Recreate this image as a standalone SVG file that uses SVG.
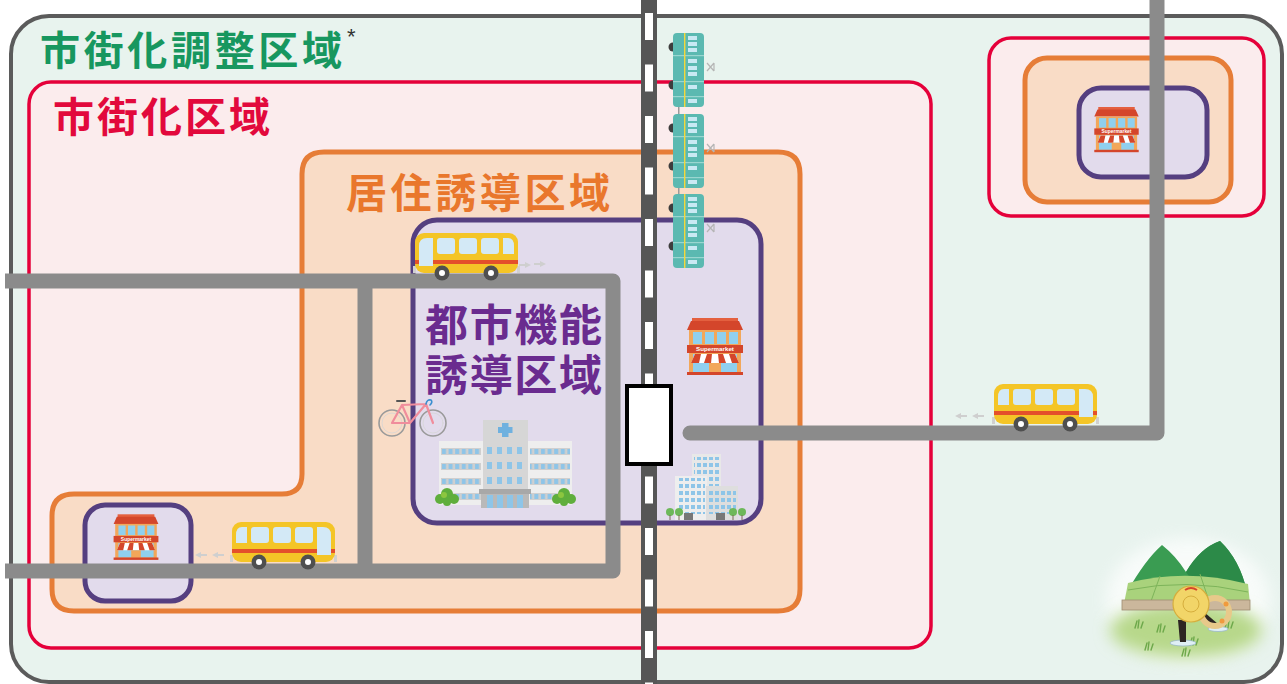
<svg xmlns="http://www.w3.org/2000/svg" xmlns:xlink="http://www.w3.org/1999/xlink" width="1287" height="684" viewBox="0 0 1287 684">
  <style>
    .jp { font-family: "Noto Sans CJK JP", "Noto Sans", sans-serif; font-weight: 700; }
    .road { fill: none; stroke: #8b8b8b; stroke-width: 15; stroke-linejoin: round; }
    .zone-red { fill: #fbeced; stroke: #e5003a; stroke-width: 3.5; }
    .zone-orange { fill: #f9dcc6; stroke: #e67d37; stroke-width: 5; }
    .zone-purple { fill: #e2dbec; stroke: #553f80; stroke-width: 5; }
    .win { fill: #8ec5e8; }
    .puff { fill: #cfcfcf; }
  </style>
  <defs>
    <!-- supermarket storefront -->
    <symbol id="shop" viewBox="0 0 60 58">
      <rect x="7" y="0" width="46" height="4" fill="#e4603f"/>
      <polygon points="2,12 6,3 54,3 58,12" fill="#d4462b"/>
      <rect x="4" y="12" width="52" height="43" fill="#f2a75a"/>
      <rect x="8" y="14" width="9" height="12" fill="#8fd0ef"/>
      <rect x="20" y="14" width="9" height="12" fill="#8fd0ef"/>
      <rect x="32" y="14" width="9" height="12" fill="#8fd0ef"/>
      <rect x="44" y="14" width="9" height="12" fill="#8fd0ef"/>
      <rect x="2" y="27" width="56" height="8" fill="#d4462b"/>
      <text x="30" y="33.2" text-anchor="middle" font-family="Liberation Sans, sans-serif" font-size="6.2" font-weight="700" fill="#ffffff">Supermarket</text>
      <rect x="8" y="36" width="44" height="18" fill="#8fd0ef"/>
      <polygon points="10,36 50,36 54,45 6,45" fill="#ffffff"/>
      <polygon points="10,36 16,36 14,45 6,45" fill="#d4462b"/>
      <polygon points="22,36 27,36 26,45 19,45" fill="#d4462b"/>
      <polygon points="33,36 38,36 41,45 34,45" fill="#d4462b"/>
      <polygon points="44,36 50,36 54,45 47,45" fill="#d4462b"/>
      <rect x="24" y="45" width="12" height="10" fill="#f2a75a"/>
      <rect x="2" y="54" width="56" height="3" fill="#d4462b"/>
    </symbol>

    <!-- city bus, front on the left -->
    <g id="bus">
      <rect x="-2" y="33" width="3" height="7" fill="#d0d0d0"/>
      <rect x="102" y="33" width="3" height="7" fill="#d0d0d0"/>
      <rect x="0" y="0" width="103" height="40" rx="9" fill="#f4c527"/>
      <rect x="0" y="27" width="103" height="4" fill="#e4502b"/>
      <path d="M4,13 Q4,5 12,5 H18 V33 H4 Z" fill="#d3e9f6"/>
      <rect x="22" y="5" width="18" height="16" rx="3" fill="#d3e9f6"/>
      <rect x="44" y="5" width="18" height="16" rx="3" fill="#d3e9f6"/>
      <rect x="66" y="5" width="18" height="16" rx="3" fill="#d3e9f6"/>
      <path d="M88,5 H93 Q99,5 99,13 V21 H88 Z" fill="#d3e9f6"/>
      <circle cx="27" cy="40" r="7.5" fill="#4f4f4f"/>
      <circle cx="27" cy="40" r="3" fill="#ffffff"/>
      <circle cx="76" cy="40" r="7.5" fill="#4f4f4f"/>
      <circle cx="76" cy="40" r="3" fill="#ffffff"/>
    </g>

    <!-- exhaust puff -->
    <g id="puffL">
      <path class="puff" d="M0,0 L6,-3 V3 Z"/>
      <rect class="puff" x="5" y="-1" width="7" height="2"/>
    </g>

    <!-- railway carriage seen from above -->
    <g id="car">
      <circle cx="0" cy="14" r="4.5" fill="#3d3d3d"/>
      <circle cx="0" cy="52" r="4.5" fill="#3d3d3d"/>
      <path d="M34,30 L41,38 M34,38 L41,30 M41,30 V38" stroke="#b5b5b5" stroke-width="1.2" fill="none"/>
      <rect x="0" y="0" width="31" height="74" rx="4" fill="#5bb9b1"/>
      <rect x="0" y="22" width="31" height="1.2" fill="#9ad6d0"/>
      <rect x="0" y="48" width="31" height="1.2" fill="#9ad6d0"/>
      <rect x="0" y="63" width="31" height="1.2" fill="#9ad6d0"/>
      <rect x="15" y="3" width="9" height="4" fill="#c9e9f3"/>
      <rect x="15" y="9" width="9" height="4" fill="#c9e9f3"/>
      <rect x="15" y="15" width="9" height="4" fill="#c9e9f3"/>
      <rect x="15" y="26" width="9" height="4" fill="#c9e9f3"/>
      <rect x="15" y="33" width="9" height="4" fill="#c9e9f3"/>
      <rect x="15" y="39" width="9" height="4" fill="#c9e9f3"/>
      <rect x="15" y="52" width="9" height="4" fill="#c9e9f3"/>
      <rect x="15" y="66" width="9" height="4" fill="#c9e9f3"/>
      <rect x="11" y="0" width="1.4" height="74" fill="#f5d83a"/>
    </g>

    <pattern id="wingWin" x="441" y="448" width="6.6" height="15" patternUnits="userSpaceOnUse">
      <rect x="0" y="0" width="6.6" height="7" fill="#cfcfcf"/>
      <rect x="1" y="1" width="4" height="5" fill="#8ec5e8"/>
    </pattern>
    <pattern id="officeWin" x="0" y="0" width="6" height="7" patternUnits="userSpaceOnUse">
      <rect x="1" y="1" width="4" height="4" fill="#8ec5e8"/>
    </pattern>
    <filter id="soft" x="-30%" y="-30%" width="160%" height="160%">
      <feGaussianBlur stdDeviation="8"/>
    </filter>
  </defs>

  <rect width="1287" height="684" fill="#ffffff"/>

  <!-- urbanization control area -->
  <g id="zone-control">
    <rect x="11" y="16" width="1271" height="666" rx="38" fill="#e8f3ee" stroke="#5b5b5b" stroke-width="4"/>
    <text class="jp" x="40" y="65" font-size="40" fill="#17975f" textLength="302" lengthAdjust="spacing">市街化調整区域</text>
    <text x="347" y="44" font-family="Liberation Sans, sans-serif" font-size="22" fill="#333333">*</text>
  </g>

  <!-- urbanization promotion area -->
  <g id="zone-urban">
    <rect class="zone-red" x="29" y="82" width="902" height="566" rx="22"/>
    <text class="jp" x="53" y="132" font-size="41" fill="#e2093c" textLength="217" lengthAdjust="spacing">市街化区域</text>
  </g>

  <!-- residence inducement area -->
  <g id="zone-residence">
    <path class="zone-orange" d="M324,152 H778 Q800,152 800,174 V589 Q800,611 778,611 H74 Q52,611 52,589 V516 Q52,494 74,494 H282 Q302,494 302,474 V174 Q302,152 324,152 Z"/>
    <text class="jp" x="346" y="208" font-size="41" fill="#e9772c" textLength="264" lengthAdjust="spacing">居住誘導区域</text>
  </g>

  <!-- urban function inducement area -->
  <g id="zone-function">
    <rect class="zone-purple" x="413" y="220" width="348" height="303" rx="24"/>
    <text class="jp" font-size="43" fill="#6a2b8f">
      <tspan x="425" y="341" textLength="177" lengthAdjust="spacing">都市機能</tspan>
      <tspan x="425" y="391" textLength="177" lengthAdjust="spacing">誘導区域</tspan>
    </text>
  </g>

  <!-- outlying town nest -->
  <g id="zone-outlying">
    <rect class="zone-red" x="989" y="38" width="275" height="178" rx="22"/>
    <rect class="zone-orange" x="1025" y="58" width="206" height="144" rx="22"/>
    <rect class="zone-purple" x="1079" y="88" width="128" height="89" rx="22"/>
  </g>

  <!-- local hub -->
  <g id="zone-local">
    <rect class="zone-purple" x="85" y="505" width="106" height="96" rx="20"/>
  </g>

  <!-- roads -->
  <g id="connectors">
    <path class="road" d="M5,281 H613 V571 H5"/>
    <path class="road" d="M365,281 V571"/>
    <path class="road" d="M690,433 H1157 V0" stroke-linecap="round"/>
    <path class="road" d="M1157,0 V-20"/>
  </g>

  <!-- railway line -->
  <g id="railway">
    <rect x="641" y="0" width="16" height="684" fill="#565656"/>
    <line x1="649" y1="13" x2="649" y2="684" stroke="#ffffff" stroke-width="8" stroke-dasharray="27 24.5"/>
  </g>

  <!-- station -->
  <g id="station">
    <rect x="627" y="386" width="44" height="78" fill="#ffffff" stroke="#000000" stroke-width="4"/>
  </g>

  <!-- train -->
  <g id="train">
    <rect x="678" y="104" width="1.5" height="12" fill="#9a9a9a"/>
    <rect x="678" y="185" width="1.5" height="12" fill="#9a9a9a"/>
    <use href="#car" transform="translate(673,33)"/>
    <use href="#car" transform="translate(673,114)"/>
    <use href="#car" transform="translate(673,194)"/>
  </g>

  <!-- buses -->
  <g id="bus-central">
    <use href="#bus" transform="translate(415,233)"/>
    <use href="#puffL" transform="translate(546,264) scale(-1,1)"/>
    <use href="#puffL" transform="translate(531,265) scale(-1,1)"/>
  </g>
  <g id="bus-local">
    <use href="#bus" transform="translate(335,522) scale(-1,1)"/>
    <use href="#puffL" transform="translate(195,555)"/>
    <use href="#puffL" transform="translate(212,555)"/>
  </g>
  <g id="bus-outlying">
    <use href="#bus" transform="translate(1097,384) scale(-1,1)"/>
    <use href="#puffL" transform="translate(955,416)"/>
    <use href="#puffL" transform="translate(972,416)"/>
  </g>

  <!-- supermarkets -->
  <g id="shop-central"><use href="#shop" x="685" y="318" width="60" height="58"/></g>
  <g id="shop-local"><use href="#shop" x="112" y="514" width="48" height="47"/></g>
  <g id="shop-outlying"><use href="#shop" x="1092" y="107" width="49" height="46"/></g>

  <!-- bicycle -->
  <g id="bicycle" fill="none" stroke-linecap="round">
    <circle cx="392" cy="423" r="13" stroke="#9a9a9a" stroke-width="1.6"/>
    <circle cx="392" cy="423" r="10" stroke="#d5d5d5" stroke-width="0.8"/>
    <circle cx="433" cy="423" r="13" stroke="#9a9a9a" stroke-width="1.6"/>
    <circle cx="433" cy="423" r="10" stroke="#d5d5d5" stroke-width="0.8"/>
    <path d="M392,423 L410,423 L402,405 Z M402,405 L426,404 L410,423 M426,404 L433,423" stroke="#f08d9c" stroke-width="2.2" stroke-linejoin="round"/>
    <path d="M397,401 H405" stroke="#555555" stroke-width="2"/>
    <path d="M426,404 Q427,399 431,400 Q433,402 430,405" stroke="#3a8fd0" stroke-width="1.6"/>
  </g>

  <!-- hospital -->
  <g id="hospital">
    <rect x="439" y="441" width="44" height="64" fill="#eeeeee"/>
    <rect x="528" y="441" width="44" height="64" fill="#eeeeee"/>
    <rect x="441" y="448" width="40" height="55" fill="url(#wingWin)"/>
    <rect x="530" y="448" width="40" height="55" fill="url(#wingWin)"/>
    <rect x="483" y="420" width="45" height="88" fill="#d6d6d6"/>
    <rect x="502" y="423" width="6.5" height="14" fill="#6fb1df"/>
    <rect x="498" y="427" width="14.5" height="6" fill="#6fb1df"/>
    <g class="win">
      <rect x="487" y="447" width="5" height="7"/><rect x="497" y="447" width="5" height="7"/><rect x="507" y="447" width="5" height="7"/><rect x="517" y="447" width="5" height="7"/>
      <rect x="487" y="462" width="5" height="7"/><rect x="497" y="462" width="5" height="7"/><rect x="507" y="462" width="5" height="7"/><rect x="517" y="462" width="5" height="7"/>
      <rect x="487" y="477" width="5" height="7"/><rect x="497" y="477" width="5" height="7"/><rect x="507" y="477" width="5" height="7"/><rect x="517" y="477" width="5" height="7"/>
    </g>
    <rect x="479" y="489" width="52" height="5" fill="#a8a8a8"/>
    <rect x="481" y="494" width="48" height="14" fill="#b9b9b9"/>
    <rect x="487" y="495" width="6" height="13" fill="#8ec5e8"/>
    <rect x="497" y="495" width="6" height="13" fill="#8ec5e8"/>
    <rect x="507" y="495" width="6" height="13" fill="#8ec5e8"/>
    <rect x="517" y="495" width="6" height="13" fill="#8ec5e8"/>
    <g fill="#5fae3c">
      <circle cx="440" cy="499" r="5"/><circle cx="447" cy="494" r="6"/><circle cx="454" cy="499" r="5"/><circle cx="447" cy="502" r="4"/>
      <circle cx="557" cy="499" r="5"/><circle cx="564" cy="494" r="6"/><circle cx="571" cy="499" r="5"/><circle cx="564" cy="502" r="4"/>
    </g>
    <g fill="#8cc63f">
      <circle cx="444" cy="495" r="3"/><circle cx="561" cy="495" r="3"/>
    </g>
  </g>

  <!-- office buildings -->
  <g id="offices">
    <rect x="692" y="454" width="29" height="66" fill="#e8e8e8"/>
    <rect x="694" y="457" width="25" height="60" fill="url(#officeWin)"/>
    <rect x="675" y="476" width="32" height="44" fill="#eeeeee"/>
    <rect x="677" y="478" width="28" height="36" fill="url(#officeWin)"/>
    <rect x="706" y="486" width="32" height="34" fill="#dedede"/>
    <rect x="708" y="488" width="28" height="26" fill="url(#officeWin)"/>
    <rect x="684" y="513" width="9" height="7" fill="#777777"/>
    <rect x="716" y="513" width="9" height="7" fill="#777777"/>
    <g fill="#6db85a">
      <circle cx="670" cy="512" r="4"/><circle cx="679" cy="512" r="4"/>
      <circle cx="733" cy="512" r="4"/><circle cx="742" cy="512" r="4"/>
    </g>
    <g fill="#7b6a55">
      <rect x="669.5" y="515" width="1" height="5"/><rect x="678.5" y="515" width="1" height="5"/>
      <rect x="732.5" y="515" width="1" height="5"/><rect x="741.5" y="515" width="1" height="5"/>
    </g>
  </g>

  <!-- rural scenery -->
  <g id="countryside">
    <ellipse cx="1188" cy="600" rx="82" ry="62" fill="#ffffff" opacity="0.7" filter="url(#soft)"/>
    <ellipse cx="1186" cy="630" rx="76" ry="28" fill="#b7d88a" filter="url(#soft)"/>
    <path d="M1127,592 Q1145,560 1162,545 Q1176,556 1186,572 Q1200,548 1220,541 Q1240,560 1247,592 Z" fill="#3a9c52"/>
    <path d="M1186,572 Q1200,548 1220,541 Q1240,560 1247,592 L1200,592 Z" fill="#2c8a48"/>
    <path d="M1124,604 L1128,583 Q1186,568 1248,584 L1250,604 Z" fill="#a9d27c"/>
    <path d="M1128,590 Q1186,578 1248,592 M1160,576 L1150,604 M1200,574 L1210,604" stroke="#7db45a" stroke-width="1" fill="none"/>
    <rect x="1122" y="600" width="128" height="10" fill="#cbb79c" stroke="#9f8c72" stroke-width="0.8"/>
    <g stroke="#6da84a" stroke-width="1.4" fill="none" stroke-linecap="round">
      <path d="M1135,628 l2,-7 M1138,628 l1,-8 M1141,628 l2,-6"/>
      <path d="M1157,632 l2,-7 M1160,632 l1,-8 M1163,632 l2,-6"/>
      <path d="M1145,650 l2,-7 M1148,650 l1,-8 M1151,650 l2,-6"/>
      <path d="M1190,645 l2,-7 M1193,645 l1,-8 M1196,645 l2,-6"/>
      <path d="M1225,628 l2,-7 M1228,628 l1,-8 M1231,628 l2,-6"/>
      <path d="M1182,656 l2,-7 M1185,656 l1,-8 M1188,656 l2,-6"/>
    </g>
    <ellipse cx="1183" cy="643" rx="13" ry="3" fill="#dfeff5" stroke="#9ab9c8" stroke-width="0.8"/>
    <ellipse cx="1218" cy="629" rx="10" ry="2.5" fill="#dfeff5" stroke="#9ab9c8" stroke-width="0.8"/>
    <path d="M1178,620 L1180,642 L1186,642 L1186,620 Z" fill="#2d2622"/>
    <path d="M1204,612 L1218,624 L1212,628 L1202,620 Z" fill="#2d2622"/>
    <circle cx="1215" cy="612" r="14" fill="none" stroke="#e8c98a" stroke-width="6"/>
    <g fill="#f09a3e">
      <circle cx="1205" cy="600" r="2.5"/><circle cx="1226" cy="604" r="2.5"/><circle cx="1222" cy="621" r="2.5"/>
    </g>
    <circle cx="1191" cy="604" r="18" fill="#f2d568" stroke="#d6ae3d" stroke-width="1.2"/>
    <circle cx="1191" cy="604" r="8" fill="none" stroke="#d6ae3d" stroke-width="1"/>
    <path d="M1185,590 Q1191,586 1197,590" stroke="#d4462b" stroke-width="2" fill="none"/>
  </g>
</svg>
